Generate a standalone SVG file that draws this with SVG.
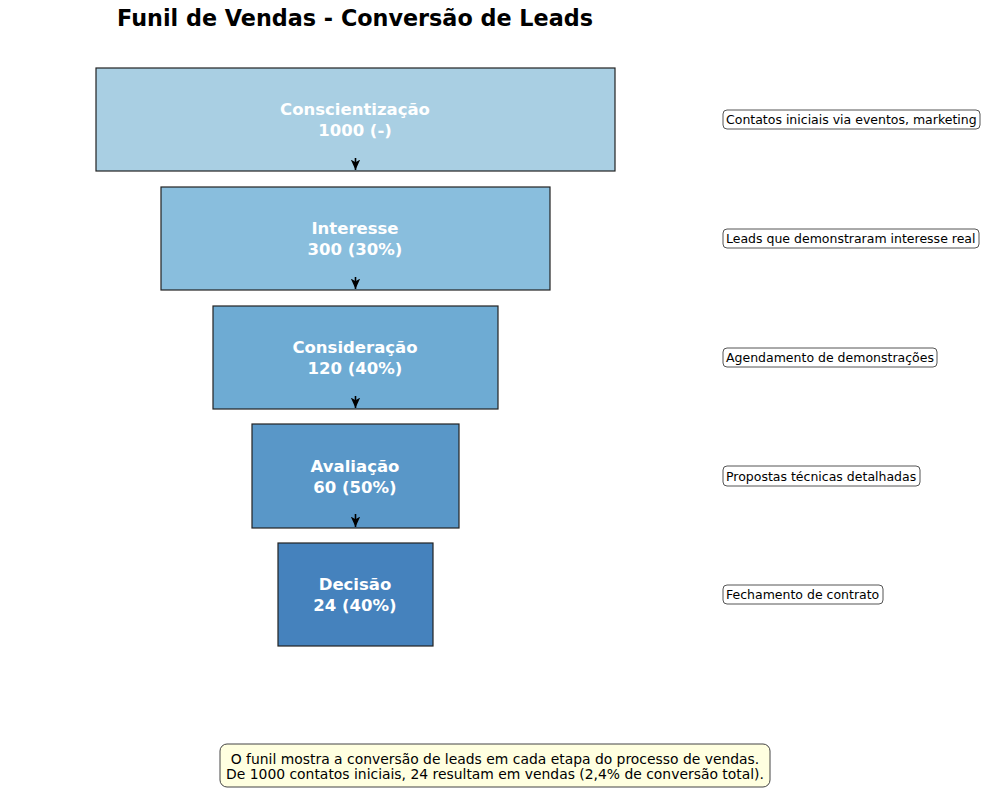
<svg xmlns="http://www.w3.org/2000/svg" width="987" height="791" viewBox="0 0 987 791">
<defs>
<style>
.stage{stroke:#222;stroke-width:1.2}
.lbl{font-family:"DejaVu Sans",sans-serif;font-weight:bold;font-size:16.5px;fill:#fff;text-anchor:middle}
.note rect{fill:#fff;stroke:#555;stroke-width:1}
.note text{font-family:"DejaVu Sans",sans-serif;font-size:12.5px;fill:#000}
.conn line{stroke:#000;stroke-width:1.6}
</style>
<marker id="ah" viewBox="0 0 10 10" refX="10" refY="5" markerWidth="6.5" markerHeight="6.5" orient="auto" markerUnits="strokeWidth">
<path d="M0,0.5 L10,5 L0,9.5 L2.5,5 z" fill="#000"/>
</marker>
</defs>
<rect width="987" height="791" fill="#fff"/>
<text x="355" y="26" font-family="DejaVu Sans,sans-serif" font-weight="bold" font-size="22.3px" text-anchor="middle">Funil de Vendas - Conversão de Leads</text>

<g id="stage1"><rect class="stage" x="96" y="68" width="519" height="103" fill="#a9cfe3"/><text class="lbl" x="355" y="115">Conscientização</text><text class="lbl" x="355" y="136">1000 (-)</text></g>
<g id="stage2"><rect class="stage" x="161" y="187" width="389" height="103" fill="#89bedd"/><text class="lbl" x="355" y="234">Interesse</text><text class="lbl" x="355" y="255">300 (30%)</text></g>
<g id="stage3"><rect class="stage" x="213" y="306" width="285" height="103" fill="#6eabd3"/><text class="lbl" x="355" y="353">Consideração</text><text class="lbl" x="355" y="374">120 (40%)</text></g>
<g id="stage4"><rect class="stage" x="252" y="424" width="207" height="104" fill="#5997c8"/><text class="lbl" x="355" y="472">Avaliação</text><text class="lbl" x="355" y="493">60 (50%)</text></g>
<g id="stage5"><rect class="stage" x="278" y="543" width="155" height="103" fill="#4582bd"/><text class="lbl" x="355" y="590">Decisão</text><text class="lbl" x="355" y="611">24 (40%)</text></g>

<g id="connectors" class="conn">
<line x1="355.5" y1="158" x2="355.5" y2="170" marker-end="url(#ah)"/>
<line x1="355.5" y1="277" x2="355.5" y2="289" marker-end="url(#ah)"/>
<line x1="355.5" y1="396" x2="355.5" y2="408" marker-end="url(#ah)"/>
<line x1="355.5" y1="514" x2="355.5" y2="527" marker-end="url(#ah)"/>
</g>

<g id="note1" class="note"><rect x="723" y="110" width="257" height="19" rx="4"/><text x="726" y="124">Contatos iniciais via eventos, marketing</text></g>
<g id="note2" class="note"><rect x="723" y="229" width="256" height="19" rx="4"/><text x="726" y="243">Leads que demonstraram interesse real</text></g>
<g id="note3" class="note"><rect x="723" y="348" width="214" height="19" rx="4"/><text x="726" y="362">Agendamento de demonstrações</text></g>
<g id="note4" class="note"><rect x="723" y="466" width="197" height="20" rx="4"/><text x="726" y="481">Propostas técnicas detalhadas</text></g>
<g id="note5" class="note"><rect x="723" y="585" width="160" height="19" rx="4"/><text x="726" y="599">Fechamento de contrato</text></g>

<g id="summary">
<rect x="220" y="744" width="550" height="43" rx="7" fill="#ffffe0" stroke="#444" stroke-width="1"/>
<text x="495" y="764" font-family="DejaVu Sans,sans-serif" font-size="13.9px" text-anchor="middle">O funil mostra a conversão de leads em cada etapa do processo de vendas.</text>
<text x="495" y="779" font-family="DejaVu Sans,sans-serif" font-size="13.9px" text-anchor="middle">De 1000 contatos iniciais, 24 resultam em vendas (2,4% de conversão total).</text>
</g>
</svg>
